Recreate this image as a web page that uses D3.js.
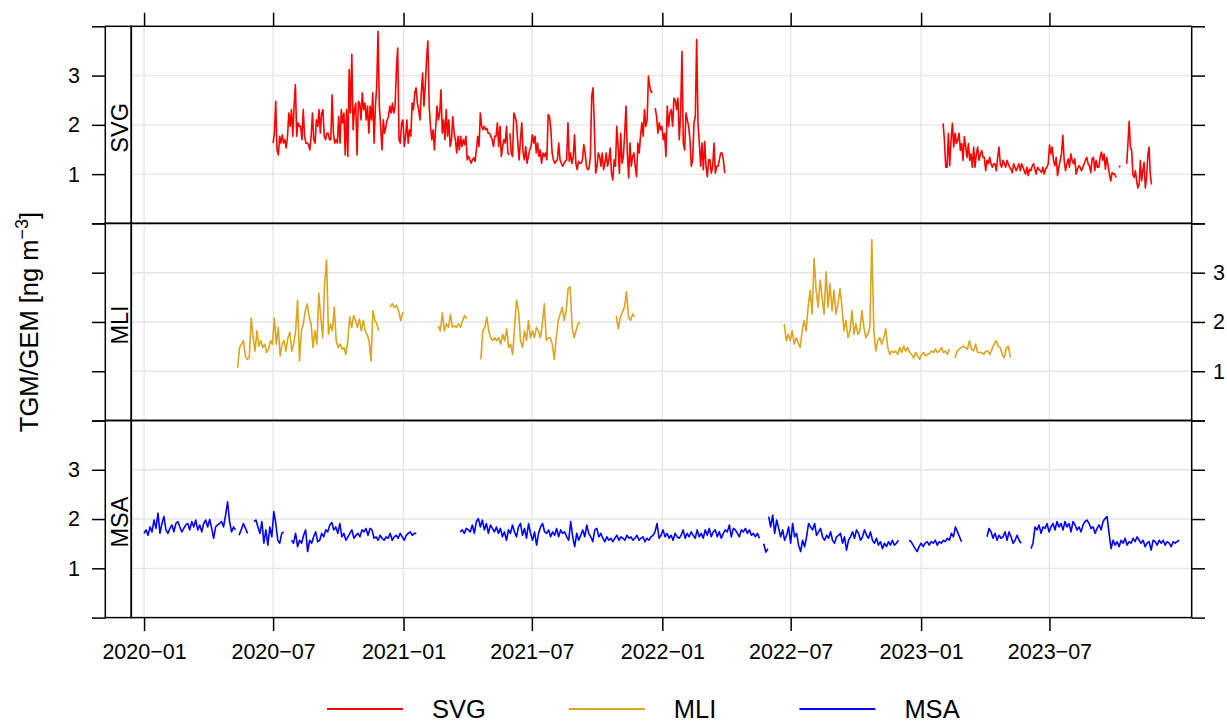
<!DOCTYPE html>
<html>
<head>
<meta charset="utf-8">
<script src="https://cdn.jsdelivr.net/npm/d3@7"></script>
<style>
body { margin: 0; background: #fff; }
svg text { font-family: "Liberation Sans", Arial, sans-serif; fill: #000; }
</style>
</head>
<body>
<svg id="chart" width="1227" height="724"></svg>
<script>
// panels, colours and ticks
const panels = ["SVG", "MLI", "MSA"];
const colours = ["#ff0000", "#daa520", "#0000ff"];
const xTicks = ["2020-01-01", "2020-07-01", "2021-01-01", "2021-07-01",
                "2022-01-01", "2022-07-01", "2023-01-01", "2023-07-01"];
const yTicks = [0, 1, 2, 3, 4];
const yLabels = [1, 2, 3];

// TGM/GEM values, one array per unbroken stretch
const svgA = [1.63,1.83,2.48,1.49,1.39,1.77,1.63,1.80,1.63,1.70,1.53,1.77,2.24,1.97,2.31,1.77,2.38,2.82,1.77,2.04,1.97,1.97,1.70,2.31,1.77,1.63,1.63,1.60,1.49,1.77,2.24,1.70,1.63,2.10,1.97,2.31,1.83,2.24,2.31,1.77,1.70,1.83,1.83,1.70,1.70,2.61,1.83,1.63,1.70,1.63,2.17,1.63,2.31,2.04,2.24,1.39,2.31,1.36,3.12,2.24,3.43,1.90,2.31,2.44,1.39,2.48,2.44,2.10,2.65,2.31,2.44,2.10,2.38,1.83,2.38,2.10,2.65,1.63,2.38,2.78,3.90,2.38,1.97,1.49,2.10,1.83,1.97,2.10,2.17,2.38,2.24,2.44,2.24,2.38,3.12,3.56,1.70,1.63,2.04,2.10,1.56,1.77,2.10,1.63,1.90,1.77,2.44,2.31,2.65,2.75,2.44,2.31,2.10,2.65,3.05,2.38,2.78,3.32,3.70,2.38,1.97,1.70,1.90,1.49,1.97,2.38,2.10,2.24,2.71,1.83,2.10,1.70,2.31,1.77,2.10,1.56,1.70,2.17,1.83,1.70,1.43,1.77,1.49,1.77,1.56,1.70,1.60,1.77,1.29,1.36,1.29,1.22,1.29,1.33,1.26,1.49,1.77,1.56,2.24,1.97,1.90,1.97,1.90,1.93,1.83,1.83,1.77,1.70,1.56,1.77,1.77,2.04,1.56,1.97,1.36,1.56,1.70,1.63,1.97,1.43,1.39];
const svgB = [1.83,1.43,1.36,2.24,2.17,2.04,1.63,1.29,1.70,2.04,1.43,1.29,1.56,1.22,1.36,1.49,1.56,1.80,1.63,1.77,1.43,1.63,1.36,1.49,1.22,1.43,1.36,1.43,1.29,2.21,2.17,1.93,1.43,1.29,1.22,1.26,1.29,1.63,1.29,1.22,1.16,1.22,1.26,1.29,2.04,1.26,1.43,1.22,1.33,1.80,1.22,1.09,1.26,1.22,1.22,1.29,1.60,1.43,1.16,1.09,1.12,1.36,2.58,2.75,1.97,1.02,1.16,1.43,1.36,1.16,1.43,1.09,1.22,1.43,1.16,1.29,1.53,1.02,0.88,1.29,1.16,1.97,1.56,1.02,1.83,1.22,1.36,1.83,2.38,1.43,0.92,1.63,1.16,1.36,1.43,1.16,0.95,1.63,1.43,1.77,2.04,1.77,2.31,1.97,2.10,2.99,2.78,2.68,2.65];
const svgC = [2.34,2.17,1.83,2.04,1.90,1.97,1.70,1.83,1.36,2.38,1.97,2.24,2.31,1.97,2.54,2.51,2.31,2.54,1.70,2.24,3.49,1.63,1.49,2.24,2.10,1.97,1.70,1.16,1.29,2.04,2.17,3.73,2.04,1.63,1.16,1.63,1.09,1.66,1.16,0.95,1.29,1.29,1.02,1.16,1.63,1.02,1.16,1.16,1.29,1.43,1.43,1.29,1.02];
const svgD = [2.03,1.69,1.14,1.14,1.83,1.17,1.69,2.03,1.55,1.83,1.62,1.69,1.83,1.48,1.62,1.28,1.76,1.55,1.34,1.62,1.28,1.41,1.14,1.55,1.14,1.41,1.55,1.28,1.41,1.48,1.34,1.34,1.07,1.28,1.21,1.34,1.21,1.14,1.21,1.21,1.07,1.34,1.55,1.21,1.14,1.28,1.21,1.14,1.28,1.21,1.14,1.10,1.03,1.21,1.14,1.07,1.14,1.21,1.07,1.21,1.14,1.07,1.00,1.14,0.97,1.10,1.07,1.17,1.21,1.10,1.00,1.14,1.10,1.07,1.03,1.14,1.00,1.10,1.14,1.21,1.59,1.41,1.55,1.28,1.17,1.34,0.97,1.14,1.28,1.41,1.79,1.28,1.07,1.21,1.31,1.14,1.41,1.28,1.21,1.31,1.00,1.10,1.17,1.14,1.07,1.14,1.21,1.28,1.34,1.21,1.17,1.03,1.31,1.34,1.07,1.28,1.14,1.14,1.34,1.45,1.28,1.41,1.10,1.34,1.17,1.00,0.86,1.03,1.00,1.00,0.93];
const svgE = [1.14,1.17];
const svgF = [1.21,1.62,2.07,1.55,1.48,1.00,0.93,1.07,0.86,0.72,0.79,1.28,0.86,1.07,1.24,0.72,0.93,1.38,1.55,1.00,0.79];

const mliA = [1.07,1.48,1.55,1.62,1.31,1.24,1.27,2.08,1.68,1.41,1.82,1.51,1.62,1.48,1.55,1.38,1.45,1.62,1.55,2.08,1.55,1.89,1.31,1.55,1.62,1.41,1.68,1.79,1.41,1.55,1.82,2.44,1.21,1.82,1.96,2.23,2.37,2.10,1.96,1.48,1.82,1.55,2.58,2.10,1.68,2.78,3.26,1.75,1.96,1.82,2.30,1.62,1.48,1.55,1.45,1.48,1.34,1.62,2.10,1.89,2.13,2.03,1.89,2.06,1.82,2.03,1.82,1.75,1.62,1.21,2.23,2.03,1.96,1.82];
const mliB = [2.30,2.37,2.29,2.34,2.23,2.03,2.20];
const mliC = [1.92,1.82,2.18,1.82,1.96,1.89,2.15,1.89,1.92,1.89,1.96,1.89,2.03,2.13,2.06];
const mliD = [1.24,1.82,1.89,2.10,1.82,1.68,1.62,1.68,1.62,1.68,1.55,1.75,1.62,1.86,1.48,1.55,1.34,1.89,2.44,2.23,1.62,1.48,1.82,1.62,2.03,1.68,1.82,1.68,1.89,1.82,1.68,1.96,2.37,1.62,1.68,1.68,1.55,1.24,1.68,2.03,2.16,2.30,2.03,2.23,2.68,2.71,1.89,1.68,1.82,1.97,1.99];
const mliE = [2.13,1.86,2.10,2.20,2.30,2.61,2.10,2.03,2.16,2.10];
const mliF = [1.96,1.62,1.75,1.62,1.82,1.55,1.68,1.58,1.48,1.82,2.03,1.82,2.30,2.64,2.16,3.29,2.64,2.30,2.85,2.51,2.16,3.02,2.30,2.78,2.23,2.64,2.16,2.37,2.68,2.30,1.82,2.03,1.68,1.82,2.23,1.75,1.96,1.75,1.82,2.23,1.89,1.68,1.75,1.89,3.67,1.82,1.41,1.62,1.68,1.55,1.68,1.86,1.48,1.34,1.41,1.38,1.41,1.34,1.48,1.38,1.51,1.41,1.48,1.38,1.34,1.27,1.38,1.31,1.24,1.34,1.38,1.31,1.34,1.36,1.41,1.38,1.45,1.38,1.41,1.48,1.38,1.41,1.34,1.45];
const mliG = [1.27,1.41,1.45,1.48,1.51,1.48,1.45,1.62,1.45,1.41,1.55,1.38,1.38,1.38,1.34,1.41,1.41,1.34,1.45,1.55,1.62,1.51,1.48,1.34,1.27,1.48,1.51,1.27];

const msaA = [1.71,1.78,1.67,1.84,1.74,1.98,1.81,2.12,1.71,1.91,2.05,1.78,1.71,1.81,1.88,1.74,1.91,1.95,1.84,1.74,1.81,1.88,1.91,1.78,1.95,1.84,1.98,1.78,1.88,1.74,1.91,1.98,1.84,1.99,1.81,1.61,1.84,1.88,1.91,1.95,1.84,2.08,2.35,1.95,1.74,1.84,1.78];
const msaB = [1.67,1.78,1.91,1.81,1.71];
const msaC = [1.95,1.98,1.84,1.71,1.95,1.51,1.78,1.47,1.84,1.64,2.15,1.91,1.57,1.51,1.71,1.74];
const msaD = [1.57,1.51,1.71,1.44,1.57,1.51,1.67,1.78,1.34,1.57,1.51,1.64,1.74,1.54,1.57,1.71,1.64,1.78,1.74,1.88,1.93,1.78,1.84,1.71,1.91,1.64,1.71,1.57,1.64,1.71,1.78,1.61,1.67,1.71,1.64,1.78,1.74,1.81,1.67,1.81,1.78,1.61,1.64,1.57,1.67,1.61,1.57,1.64,1.61,1.71,1.57,1.64,1.67,1.61,1.71,1.64,1.57,1.67,1.71,1.74,1.67,1.71,1.71];
const msaE = [1.74,1.78,1.71,1.81,1.78,1.74,1.88,1.71,1.95,2.01,1.84,1.98,1.78,1.91,1.71,1.88,1.81,1.74,1.84,1.71,1.81,1.64,1.74,1.57,1.78,1.71,1.88,1.74,1.64,1.84,1.91,1.67,1.81,1.61,1.91,1.71,1.57,1.74,1.47,1.71,1.84,1.91,1.74,1.71,1.78,1.64,1.74,1.67,1.81,1.64,1.78,1.71,1.74,1.64,1.57,1.95,1.64,1.44,1.71,1.57,1.67,1.78,1.64,1.88,1.71,1.64,1.54,1.78,1.81,1.64,1.71,1.61,1.54,1.64,1.57,1.61,1.54,1.61,1.67,1.57,1.64,1.61,1.57,1.67,1.61,1.64,1.57,1.61,1.67,1.57,1.61,1.64,1.54,1.61,1.57,1.64,1.67,1.74,1.91,1.61,1.67,1.78,1.64,1.71,1.61,1.67,1.57,1.71,1.64,1.61,1.67,1.78,1.61,1.71,1.64,1.74,1.67,1.61,1.78,1.64,1.71,1.61,1.78,1.67,1.81,1.64,1.74,1.78,1.64,1.74,1.61,1.71,1.78,1.74,1.88,1.64,1.81,1.78,1.71,1.64,1.78,1.74,1.81,1.71,1.78,1.67,1.71,1.64,1.71,1.61];
const msaF = [1.50,1.33,1.40];
const msaG = [2.05,1.84,2.08,1.71,1.98,1.81,1.64,1.78,1.57,1.67,1.84,1.51,1.91,1.64,1.71,1.47,1.34,1.57,1.44,1.64,1.91,1.84,1.78,1.91,1.67,1.74,1.81,1.64,1.57,1.67,1.61,1.74,1.57,1.51,1.64,1.67,1.71,1.51,1.64,1.37,1.57,1.64,1.74,1.61,1.78,1.71,1.57,1.64,1.78,1.67,1.61,1.74,1.57,1.51,1.61,1.47,1.54,1.40,1.51,1.44,1.54,1.47,1.57,1.47,1.51,1.57];
const msaH = [1.57,1.54,1.47,1.40,1.34,1.44,1.51,1.44,1.51,1.54,1.47,1.54,1.51,1.57,1.47,1.54,1.51,1.57,1.54,1.61,1.57,1.71,1.64,1.84,1.74,1.64,1.54];
const msaI = [1.64,1.81,1.74,1.61,1.71,1.57,1.67,1.61,1.64,1.74,1.57,1.74,1.64,1.51,1.57,1.67,1.57,1.51];
const msaJ = [1.40,1.51,1.84,1.78,1.88,1.71,1.84,1.81,1.91,1.74,1.84,1.91,1.78,1.95,1.84,1.91,1.78,1.95,1.84,1.91,1.74,1.95,1.88,1.78,1.84,1.74,1.88,1.95,1.98,1.91,1.81,1.84,1.71,1.81,1.88,1.78,1.95,2.01,2.05,1.71,1.40,1.57,1.47,1.54,1.44,1.57,1.51,1.61,1.47,1.54,1.51,1.61,1.54,1.64,1.57,1.51,1.57,1.44,1.51,1.54,1.37,1.57,1.54,1.47,1.57,1.51,1.57,1.47,1.54,1.51,1.44,1.54,1.51,1.54,1.57];

// [first day, last day, values]; values are evenly spread over the stretch
const svgSegs = [["2020-07-01", "2021-05-30", svgA], ["2021-05-31", "2021-12-18", svgB],
                 ["2021-12-22", "2022-03-30", svgC], ["2023-02-01", "2023-10-03", svgD],
                 ["2023-10-07", "2023-10-09", svgE], ["2023-10-18", "2023-11-22", svgF]];
const mliSegs = [["2020-05-12", "2020-11-27", mliA], ["2020-12-13", "2020-12-31", mliB],
                 ["2021-02-19", "2021-03-31", mliC], ["2021-04-20", "2021-09-07", mliD],
                 ["2021-10-28", "2021-11-23", mliE], ["2022-06-22", "2023-02-10", mliF],
                 ["2023-02-18", "2023-05-07", mliG]];
const msaSegs = [["2020-01-01", "2020-05-09", msaA], ["2020-05-14", "2020-05-26", msaB],
                 ["2020-06-04", "2020-07-16", msaC], ["2020-07-27", "2021-01-19", msaD],
                 ["2021-03-22", "2022-05-18", msaE], ["2022-05-24", "2022-05-30", msaF],
                 ["2022-05-31", "2022-11-30", msaG], ["2022-12-15", "2023-02-27", msaH],
                 ["2023-04-04", "2023-05-22", msaI], ["2023-06-05", "2023-12-31", msaJ]];
const allSegs = [svgSegs, mliSegs, msaSegs];

const parseDay = d3.utcParse("%Y-%m-%d");

function toPoints(seg) {
    const t0 = parseDay(seg[0]).getTime();
    const t1 = parseDay(seg[1]).getTime();
    const n = seg[2].length;
    return seg[2].map((v, i) => [new Date(t0 + (t1 - t0) * i / Math.max(n - 1, 1)), v]);
}

const svg = d3.select("#chart");
const stripLeft = 105.3, plotLeft = 131.3, plotRight = 1191.7;
const top0 = 26.3, rowH = 197.1;

const x = d3.scaleUtc()
    .domain([new Date(Date.UTC(2019, 11, 14)), new Date(Date.UTC(2024, 0, 17, 16))])
    .range([plotLeft, plotRight]);

const fmt = d3.utcFormat("%Y\u2212%m");

panels.forEach((name, p) => {
    const yTop = top0 + p * rowH;
    const y = d3.scaleLinear().domain([0, 4]).range([yTop + rowH, yTop]);
    const g = svg.append("g");

    // grid
    g.selectAll(".vg").data(xTicks).enter().append("line")
        .attr("x1", d => x(parseDay(d))).attr("x2", d => x(parseDay(d)))
        .attr("y1", yTop).attr("y2", yTop + rowH)
        .attr("stroke", "#e6e6e6").attr("stroke-width", 1.4);
    g.selectAll(".hg").data(yLabels).enter().append("line")
        .attr("x1", plotLeft).attr("x2", plotRight)
        .attr("y1", d => y(d)).attr("y2", d => y(d))
        .attr("stroke", "#e6e6e6").attr("stroke-width", 1.4);

    // series
    const line = d3.line().x(d => x(d[0])).y(d => y(d[1]));
    allSegs[p].forEach(seg => {
        g.append("path")
            .datum(toPoints(seg))
            .attr("d", line)
            .attr("fill", "none")
            .attr("stroke", colours[p])
            .attr("stroke-width", 1.6)
            .attr("stroke-linejoin", "round");
    });

    // panel and strip boxes
    g.append("rect").attr("x", plotLeft).attr("y", yTop)
        .attr("width", plotRight - plotLeft).attr("height", rowH)
        .attr("fill", "none").attr("stroke", "#000").attr("stroke-width", 1.5);
    g.append("rect").attr("x", stripLeft).attr("y", yTop)
        .attr("width", plotLeft - stripLeft).attr("height", rowH)
        .attr("fill", "none").attr("stroke", "#000").attr("stroke-width", 1.5);
    g.append("text")
        .attr("transform", "translate(127.5," + (yTop + rowH / 2 + 3) + ") rotate(-90)")
        .attr("text-anchor", "middle")
        .style("font-size", "23.5px")
        .text(name);

    // y axes, labels alternate left / right
    const leftAxis = d3.axisLeft(y).tickValues(yTicks).tickSize(13.3).tickPadding(12)
        .tickFormat(d => (p !== 1 && yLabels.includes(d)) ? d : "");
    const rightAxis = d3.axisRight(y).tickValues(yTicks).tickSize(13.3).tickPadding(8)
        .tickFormat(d => (p === 1 && yLabels.includes(d)) ? d : "");
    g.append("g").attr("transform", "translate(" + stripLeft + ",0)").call(leftAxis);
    g.append("g").attr("transform", "translate(" + plotRight + ",0)").call(rightAxis);

    if (p === 0) {
        g.append("g").attr("transform", "translate(0," + yTop + ")")
            .call(d3.axisTop(x).tickValues(xTicks.map(parseDay)).tickSize(13.6).tickFormat(""));
    }
    if (p === panels.length - 1) {
        g.append("g").attr("transform", "translate(0," + (yTop + rowH) + ")")
            .call(d3.axisBottom(x).tickValues(xTicks.map(parseDay)).tickSize(13.5)
                .tickPadding(12.7).tickFormat(fmt));
    }
});

svg.selectAll(".domain").remove();
svg.selectAll(".tick line").attr("stroke", "#000").attr("stroke-width", 1.5);
svg.selectAll(".tick text")
    .style("font-size", "21.5px")
    .style("font-family", "'Liberation Sans', Arial, sans-serif")
    .attr("fill", "#000");

// y title
const title = svg.append("text")
    .attr("transform", "translate(37.5,322) rotate(-90)")
    .attr("text-anchor", "middle")
    .style("font-size", "25.5px");
title.append("tspan").text("TGM/GEM [ng m");
title.append("tspan").attr("dy", -10).style("font-size", "18px").text("\u22123");
title.append("tspan").attr("dy", 10).text("]");

// legend
let lx = 327;
panels.forEach((name, p) => {
    svg.append("line").attr("x1", lx).attr("x2", lx + 76)
        .attr("y1", 709).attr("y2", 709)
        .attr("stroke", colours[p]).attr("stroke-width", 2);
    const t = svg.append("text").attr("x", lx + 105).attr("y", 717.5)
        .style("font-size", "25.5px").text(name);
    lx += 105 + t.node().getComputedTextLength() + 83;
});
</script>
</body>
</html>
